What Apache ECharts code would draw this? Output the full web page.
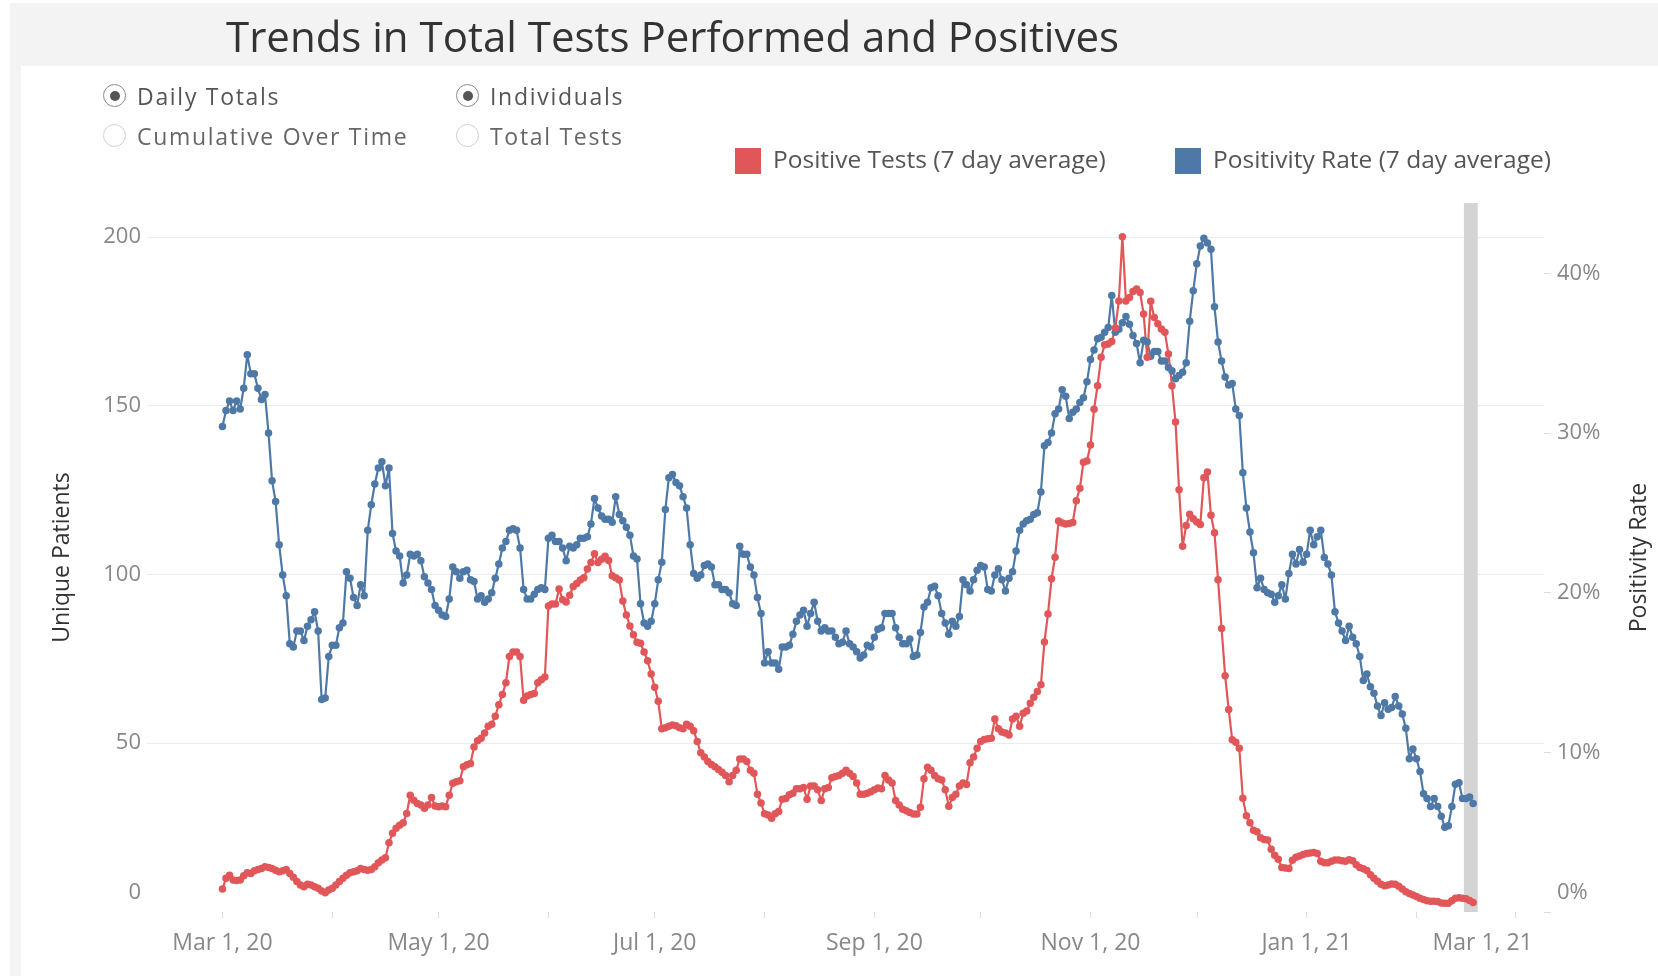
<!DOCTYPE html>
<html>
<head>
<meta charset="utf-8">
<script src="https://cdn.jsdelivr.net/npm/echarts@6/dist/echarts.min.js"></script>
<style>
  html, body { margin: 0; padding: 0; background: #fff; }
  #bgTop { position: absolute; left: 10px; top: 3px; width: 1648px; height: 63px; background: #f3f3f3; }
  #bgLeft { position: absolute; left: 10px; top: 66px; width: 11px; height: 910px; background: #f3f3f3; }
  #main { position: absolute; left: 0; top: 0; width: 1658px; height: 976px; }
  .radio { position: absolute; height: 30px; line-height: 30px; font-family: 'Open Sans'; font-size: 23px;
    letter-spacing: 1.7px; color: #666; white-space: nowrap; z-index: 2; }
  .radio i { position: absolute; left: -34px; top: 3px; width: 21px; height: 21px; border-radius: 50%;
    border: 1.5px solid #cfcfcf; background: #fff; }
  .radio.on { color: #555; }
  .radio.on i { border-color: #8a8a8a; }
  .radio.on i::after { content: ''; position: absolute; left: 5.5px; top: 5.5px; width: 10px; height: 10px;
    border-radius: 50%; background: #555; }
</style>
</head>
<body>
<div id="bgTop"></div>
<div id="bgLeft"></div>
<div id="main"></div>
<div class="radio on" style="left:137px; top:81px;"><i></i>Daily Totals</div>
<div class="radio" style="left:137px; top:121px;"><i></i>Cumulative Over Time</div>
<div class="radio on" style="left:490px; top:81px;"><i></i>Individuals</div>
<div class="radio" style="left:490px; top:121px;"><i></i>Total Tests</div>
<script>
// daily series, one value per day starting at startDate
const startDate = '2020-03-01'

// Positive Tests (7 day average), unique patients
const positiveTests = [
  6.8, 10.0, 10.9, 9.5, 9.3, 9.5, 10.7, 11.6, 11.4, 12.2,
  12.6, 12.9, 13.4, 13.2, 12.9, 12.4, 11.9, 12.2, 12.6, 11.4,
  10.3, 9.0, 8.0, 7.5, 8.2, 8.0, 7.5, 7.0, 6.2, 5.7,
  6.5, 7.0, 8.0, 9.0, 10.0, 10.9, 11.6, 11.9, 12.2, 12.9,
  12.6, 12.4, 12.6, 13.4, 14.6, 15.4, 16.1, 20.5, 23.3, 24.8,
  25.7, 26.4, 29.2, 34.6, 33.1, 32.1, 31.7, 30.7, 31.7, 33.9,
  31.4, 31.2, 31.4, 31.2, 34.6, 38.1, 38.6, 38.9, 43.0, 43.6,
  44.0, 48.9, 50.7, 51.5, 53.0, 55.0, 55.6, 58.0, 61.4, 64.4,
  67.9, 75.7, 77.0, 77.0, 75.7, 62.7, 64.0, 64.4, 64.7, 67.9,
  68.8, 69.6, 90.6, 91.2, 91.2, 95.7, 92.5, 91.8, 93.8, 96.4,
  97.3, 98.3, 99.0, 101.6, 103.5, 106.1, 103.5, 104.5, 105.4, 104.1,
  99.6, 99.0, 98.3, 92.1, 88.0, 84.7, 82.1, 79.9, 79.6, 77.0,
  74.4, 70.5, 66.6, 62.4, 54.3, 54.6, 55.0, 55.4, 55.2, 54.6,
  54.3, 55.6, 55.0, 53.7, 50.5, 47.2, 45.9, 44.6, 43.7, 43.0,
  42.2, 41.4, 40.4, 38.6, 40.4, 42.0, 45.3, 45.3, 44.6, 42.0,
  41.1, 34.9, 32.3, 29.1, 28.7, 27.8, 29.1, 29.8, 33.4, 33.6,
  34.7, 35.2, 36.5, 36.5, 36.9, 33.4, 37.3, 37.3, 36.2, 33.0,
  36.5, 36.9, 39.8, 40.1, 40.4, 41.1, 42.0, 41.1, 40.1, 38.2,
  34.9, 34.9, 35.2, 35.6, 36.2, 36.7, 36.5, 40.4, 39.1, 38.2,
  33.0, 31.7, 30.4, 30.0, 29.5, 29.0, 29.0, 31.0, 39.5, 42.9,
  42.0, 40.4, 39.5, 39.1, 36.2, 31.3, 33.9, 34.9, 37.3, 38.2,
  37.8, 44.2, 45.9, 48.5, 50.5, 51.1, 51.3, 51.5, 57.2, 54.3,
  53.3, 53.0, 52.4, 57.2, 58.0, 55.0, 58.9, 59.5, 61.8, 63.6,
  65.3, 67.3, 80.0, 88.3, 98.7, 105.1, 115.8, 115.2, 114.9, 115.1,
  115.4, 121.8, 125.5, 133.2, 133.6, 138.3, 148.9, 155.9, 164.3, 168.0,
  168.2, 169.0, 173.0, 181.0, 200.0, 181.0, 182.0, 183.8, 184.5, 183.5,
  177.1, 164.3, 180.9, 176.1, 174.2, 172.7, 171.7, 165.3, 155.9, 145.1,
  125.1, 108.3, 114.5, 117.8, 116.5, 115.5, 114.8, 128.6, 130.3, 117.5,
  112.3, 98.4, 84.0, 70.0, 60.0, 51.0, 50.3, 48.5, 33.7, 28.5,
  26.4, 24.2, 23.8, 22.0, 21.5, 21.3, 18.6, 16.8, 15.6, 13.2,
  13.0, 12.9, 15.3, 16.2, 16.6, 17.0, 17.3, 17.5, 17.6, 17.3,
  15.0, 14.6, 14.6, 15.0, 15.4, 15.4, 15.2, 15.0, 15.5, 15.2,
  14.0, 13.2, 12.8, 12.3, 11.0, 10.0, 9.1, 8.2, 7.8, 8.0,
  8.3, 8.2, 7.6, 6.8, 6.0, 5.5, 5.0, 4.6, 4.1, 3.7,
  3.3, 3.2, 3.2, 3.1, 2.7, 2.6, 2.6, 3.3, 4.1, 4.2,
  4.1, 3.9, 3.4, 2.8
]

// Positivity Rate (7 day average), percent
const positivityRate = [
  30.4, 31.4, 32.0, 31.4, 32.0, 31.5, 32.8, 34.9, 33.7, 33.7,
  32.8, 32.1, 32.4, 30.0, 27.0, 25.7, 23.0, 21.1, 19.8, 16.8,
  16.6, 17.6, 17.6, 17.0, 17.9, 18.3, 18.8, 17.6, 13.3, 13.4,
  16.0, 16.7, 16.7, 17.8, 18.1, 21.3, 20.9, 19.7, 19.2, 20.5,
  19.8, 23.9, 25.5, 26.8, 27.8, 28.2, 26.7, 27.8, 23.7, 22.6,
  22.3, 20.6, 21.1, 22.4, 22.3, 22.4, 22.0, 21.0, 20.6, 20.2,
  19.2, 18.9, 18.6, 18.5, 19.6, 21.6, 21.3, 20.9, 21.3, 21.4,
  20.8, 20.7, 19.6, 19.8, 19.4, 19.6, 20.0, 20.9, 21.8, 22.8,
  23.2, 23.9, 24.0, 23.9, 22.8, 20.2, 19.6, 19.6, 19.9, 20.2,
  20.3, 20.2, 23.4, 23.6, 23.2, 23.2, 22.8, 22.0, 22.9, 22.8,
  23.0, 23.4, 23.4, 23.5, 24.3, 25.9, 25.3, 24.8, 24.6, 24.6,
  24.4, 26.0, 24.9, 24.5, 24.1, 23.6, 22.3, 22.1, 19.3, 18.1,
  17.9, 18.2, 19.3, 20.8, 21.9, 25.2, 27.2, 27.4, 26.9, 26.7,
  26.0, 25.3, 23.0, 21.2, 20.9, 21.1, 21.7, 21.8, 21.6, 20.5,
  20.5, 20.2, 20.2, 20.0, 19.3, 19.2, 22.9, 22.4, 22.4, 21.6,
  21.1, 19.7, 18.7, 15.6, 16.3, 15.6, 15.6, 15.2, 16.6, 16.6,
  16.7, 17.4, 18.2, 18.6, 18.9, 17.9, 18.7, 19.4, 18.2, 17.6,
  17.8, 17.6, 17.6, 17.2, 16.8, 16.9, 17.6, 16.8, 16.6, 16.3,
  15.9, 16.1, 16.7, 16.6, 17.2, 17.7, 17.8, 18.7, 18.7, 18.7,
  17.8, 17.2, 16.8, 16.8, 17.1, 16.0, 16.1, 17.5, 19.1, 19.4,
  20.3, 20.4, 19.8, 18.7, 18.1, 17.4, 18.2, 17.9, 18.5, 20.8,
  20.5, 20.1, 20.8, 21.4, 21.7, 21.6, 20.2, 20.1, 21.1, 21.5,
  20.8, 20.1, 20.9, 21.3, 22.6, 23.9, 24.3, 24.5, 24.6, 24.9,
  25.0, 26.3, 29.2, 29.4, 30.0, 31.2, 31.5, 32.7, 32.3, 30.9,
  31.3, 31.5, 31.9, 32.2, 33.2, 34.6, 35.2, 35.9, 36.0, 36.3,
  36.6, 38.6, 36.3, 36.5, 36.9, 37.3, 36.8, 36.1, 35.6, 34.4,
  35.8, 35.7, 34.8, 35.1, 35.1, 34.5, 34.5, 34.1, 33.9, 33.4,
  33.6, 33.8, 34.4, 37.0, 38.9, 40.6, 41.7, 42.2, 41.9, 41.5,
  37.9, 35.7, 34.5, 33.5, 33.0, 33.1, 31.5, 31.1, 27.5, 25.3,
  23.8, 22.5, 20.3, 20.9, 20.2, 20.0, 19.9, 19.4, 19.8, 20.5,
  19.6, 21.2, 22.4, 21.8, 22.7, 21.9, 22.4, 23.9, 23.0, 23.5,
  23.9, 22.2, 21.8, 21.1, 18.8, 18.1, 17.6, 17.0, 17.9, 17.2,
  16.8, 16.0, 14.5, 14.9, 14.1, 13.7, 12.9, 12.3, 13.1, 12.7,
  12.8, 13.5, 12.9, 12.4, 11.5, 9.6, 10.2, 9.6, 8.8, 7.4,
  7.1, 6.6, 7.1, 6.6, 6.0, 5.3, 5.4, 6.6, 8.0, 8.1,
  7.1, 7.1, 7.2, 6.8
]

// x axis ticks (every month) and labels (every other month)
const tickDates = ['2020-03-01', '2020-04-01', '2020-05-01', '2020-06-01', '2020-07-01', '2020-08-01',
  '2020-09-01', '2020-10-01', '2020-11-01', '2020-12-01', '2021-01-01', '2021-02-01', '2021-03-01']
const labelDates = ['2020-03-01', '2020-05-01', '2020-07-01', '2020-09-01', '2020-11-01', '2021-01-01', '2021-03-01']
const labelTexts = ['Mar 1, 20', 'May 1, 20', 'Jul 1, 20', 'Sep 1, 20', 'Nov 1, 20', 'Jan 1, 21', 'Mar 1, 21']
const leftTicks = [0, 50, 100, 150, 200]
const rightTicks = [0, 10, 20, 30, 40]
// shaded (incomplete) period at the end
const bandDates = ['2021-02-14', '2021-02-18']

const FONT = 'Open Sans'
const dayOf = (s) => (Date.parse(s) - Date.parse(startDate)) / 86400000

const chart = echarts.init(document.getElementById('main'))

const labelMap = {}
labelDates.forEach((d, i) => { labelMap[dayOf(d)] = labelTexts[i] })
const lastLabelDay = dayOf(labelDates[labelDates.length - 1])

const option = {
  animation: false,
  title: {
    text: 'Trends in Total Tests Performed and Positives',
    left: 226,
    top: 19,
    padding: 0,
    textStyle: { fontFamily: FONT, fontSize: 42, fontWeight: 'normal', color: '#333' }
  },
  legend: [
    {
      data: ['Positive Tests (7 day average)'],
      left: 735, top: 148, padding: 0,
      icon: 'rect', itemWidth: 26, itemHeight: 26,
      textStyle: { fontFamily: FONT, fontSize: 24.5, color: '#555', padding: [0, 0, 0, 7] }
    },
    {
      data: ['Positivity Rate (7 day average)'],
      left: 1175, top: 148, padding: 0,
      icon: 'rect', itemWidth: 26, itemHeight: 26,
      textStyle: { fontFamily: FONT, fontSize: 24.5, color: '#555', padding: [0, 0, 0, 7] }
    }
  ],
  grid: { left: 147, right: 114, top: 203, bottom: 64, outerBoundsMode: 'none' },
  xAxis: {
    type: 'value',
    min: -21.3,
    max: 373,
    axisLine: { show: false },
    splitLine: { show: false },
    axisTick: { show: true, customValues: tickDates.map(dayOf), length: 6, lineStyle: { color: '#dcdcdc' } },
    axisLabel: {
      customValues: labelDates.map(dayOf),
      margin: 20,
      fontFamily: FONT, fontSize: 23, color: '#888',
      formatter: (v) => v === lastLabelDay ? '{last|' + labelMap[v] + '}' : (labelMap[v] || ''),
      rich: { last: { fontFamily: FONT, fontSize: 23, color: '#888', padding: [0, 66, 0, 0] } }
    }
  },
  yAxis: [
    {
      type: 'value',
      min: 0, max: 210, interval: 50,
      name: 'Unique Patients',
      nameLocation: 'middle', nameRotate: 90, nameGap: 73,
      nameTextStyle: { fontFamily: FONT, fontSize: 23, color: '#333' },
      axisLine: { show: false },
      axisTick: { show: false },
      splitLine: { show: true, showMinLine: false, showMaxLine: false, lineStyle: { color: '#ececec', width: 1 } },
      axisLabel: {
        customValues: leftTicks,
        margin: 6,
        fontFamily: FONT, fontSize: 22, color: '#888',
        formatter: (v) => v === 0 ? '{zero|0}' : String(v),
        rich: { zero: { fontFamily: FONT, fontSize: 22, color: '#888', padding: [0, 0, 38, 0] } }
      }
    },
    {
      type: 'value',
      min: 0, max: 44.4, interval: 10,
      position: 'right',
      name: 'Positivity Rate',
      nameLocation: 'middle', nameRotate: 90, nameGap: 84,
      nameTextStyle: { fontFamily: FONT, fontSize: 23, color: '#333' },
      axisLine: { show: false },
      axisTick: { show: true, customValues: rightTicks, length: 7, lineStyle: { color: '#dcdcdc' } },
      splitLine: { show: false },
      axisLabel: {
        customValues: rightTicks,
        margin: 13,
        fontFamily: FONT, fontSize: 22, color: '#888',
        formatter: (v) => v === 0 ? '{zero|0%}' : v + '%',
        rich: { zero: { fontFamily: FONT, fontSize: 22, color: '#888', padding: [0, 0, 38, 0] } }
      }
    }
  ],
  series: [
    {
      name: 'Positivity Rate (7 day average)',
      type: 'line',
      yAxisIndex: 1,
      data: positivityRate.map((v, i) => [i, v]),
      symbol: 'circle',
      symbolSize: 7.5,
      showAllSymbol: true,
      color: '#4e79a7',
      lineStyle: { width: 2.2 },
      markArea: {
        silent: true,
        itemStyle: { color: '#d4d4d4' },
        data: [[{ xAxis: dayOf(bandDates[0]) + 0.4 }, { xAxis: dayOf(bandDates[1]) + 0.3 }]]
      }
    },
    {
      name: 'Positive Tests (7 day average)',
      type: 'line',
      yAxisIndex: 0,
      data: positiveTests.map((v, i) => [i, v]),
      symbol: 'circle',
      symbolSize: 7.5,
      showAllSymbol: true,
      color: '#e15759',
      lineStyle: { width: 2.2 }
    }
  ]
}

option && chart.setOption(option)
</script>
</body>
</html>
